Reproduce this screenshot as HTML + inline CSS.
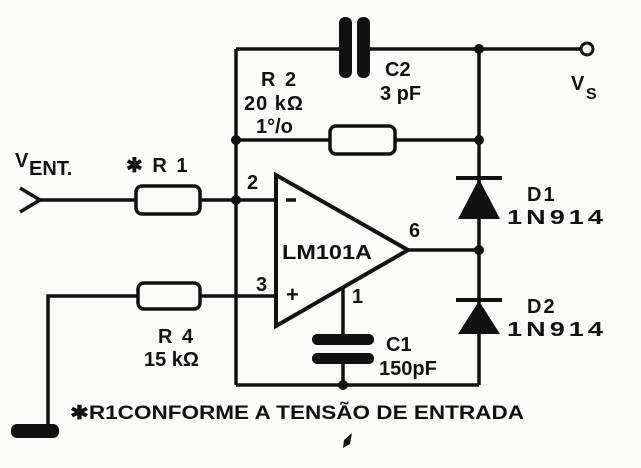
<!DOCTYPE html>
<html><head><style>
html,body{margin:0;padding:0;background:#fbfbf8;}
svg{display:block;}
text{font-family:"Liberation Sans",sans-serif;fill:#111;font-weight:bold;}
</style></head><body>
<svg width="641" height="468" viewBox="0 0 641 468" xmlns="http://www.w3.org/2000/svg">
<g stroke="#111" stroke-width="3.5" fill="none">
<line x1="236" y1="49" x2="345" y2="49"/>
<line x1="362" y1="49" x2="581" y2="49"/>
<circle cx="587" cy="49" r="6" stroke-width="3"/>
<line x1="236" y1="49" x2="236" y2="385"/>
<line x1="479" y1="49" x2="479" y2="385"/>
<line x1="236" y1="385" x2="479" y2="385"/>
<line x1="236" y1="140" x2="330" y2="140"/>
<line x1="395" y1="140" x2="479" y2="140"/>
<rect x="330" y="126" width="65" height="28" rx="6"/>
<polyline points="20,188 40,200 20,212"/>
<line x1="40" y1="200" x2="136" y2="200"/>
<rect x="136" y="186" width="64" height="28" rx="6"/>
<line x1="200" y1="200" x2="276" y2="200"/>
<polyline points="48,430 48,296 138,296"/>
<rect x="138" y="283" width="62" height="26" rx="6"/>
<line x1="200" y1="296" x2="276" y2="296"/>
<polygon points="276,175 276,326 408,250" stroke-width="4"/>
<line x1="408" y1="250" x2="479" y2="250"/>
<line x1="343" y1="288" x2="343" y2="338"/>
<line x1="343" y1="359" x2="343" y2="385"/>
<line x1="456" y1="178" x2="502" y2="178" stroke-width="4"/>
<line x1="456" y1="300" x2="502" y2="300" stroke-width="4"/>
<line x1="286" y1="200" x2="296" y2="200"/>
</g>
<g fill="#111">
<rect x="339" y="17" width="13" height="61" rx="6"/>
<rect x="357" y="17" width="13" height="61" rx="6"/>
<rect x="312" y="334" width="62" height="11" rx="5"/>
<rect x="312" y="353" width="62" height="11" rx="5"/>
<polygon points="479,179 458,219 500,219"/>
<polygon points="479,301 458,334 500,334"/>
<circle cx="479" cy="49" r="5"/>
<circle cx="236" cy="140" r="5"/>
<circle cx="479" cy="140" r="5"/>
<circle cx="236" cy="200" r="5"/>
<circle cx="479" cy="250" r="5"/>
<circle cx="343" cy="385" r="5"/>
<rect x="11" y="424" width="48" height="14" rx="6"/>
<polygon points="344,440 352,433 350,444 343,448"/>
</g>
<g font-size="20">
<text x="261" y="86" letter-spacing="2">R 2</text>
<text x="244" y="110" letter-spacing="1">20 kΩ</text>
<text x="256" y="133">1°/o</text>
<text x="385" y="76">C2</text>
<text x="380" y="100">3 pF</text>
<text x="571" y="90">V</text><text x="586" y="99" font-size="16">S</text>
<text x="15" y="167">V</text><text x="29" y="175">ENT.</text>
<text x="126" y="172" letter-spacing="2">✱ R 1</text>
<text x="247" y="189">2</text>
<text x="256" y="291">3</text>
<text x="286" y="302" font-size="22">+</text>
<text x="409" y="237">6</text>
<text x="352" y="303">1</text>
<text x="282" y="259" font-size="20" textLength="90" lengthAdjust="spacingAndGlyphs">LM101A</text>
<text x="527" y="201" letter-spacing="2">D1</text>
<text x="507" y="224" letter-spacing="3" textLength="100" lengthAdjust="spacingAndGlyphs">1N914</text>
<text x="527" y="313" letter-spacing="2">D2</text>
<text x="507" y="336" letter-spacing="3" textLength="100" lengthAdjust="spacingAndGlyphs">1N914</text>
<text x="386" y="351">C1</text>
<text x="379" y="375">150pF</text>
<text x="158" y="343" letter-spacing="2">R 4</text>
<text x="144" y="366">15 kΩ</text>
<text x="70" y="419" font-size="19" textLength="454" lengthAdjust="spacingAndGlyphs">✱R1CONFORME A TENSÃO DE ENTRADA</text>
</g>
</svg>
</body></html>
